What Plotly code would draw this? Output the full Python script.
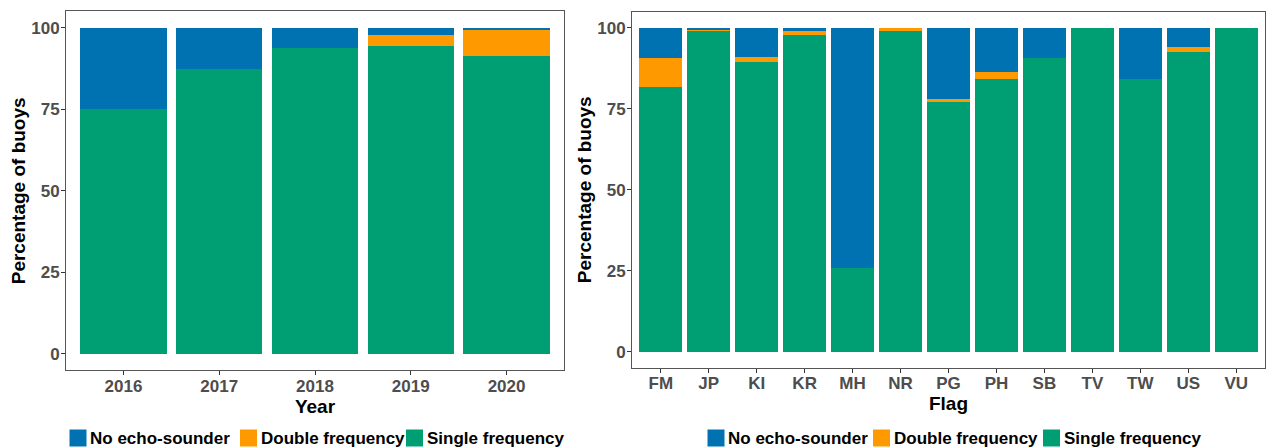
import plotly.graph_objects as go

# ---- data -------------------------------------------------------------
years = ["2016", "2017", "2018", "2019", "2020"]
year_single = [75.0, 87.2, 93.8, 94.3, 91.4]
year_double = [0.0, 0.0, 0.0, 3.6, 7.8]
year_none = [25.0, 12.8, 6.2, 2.1, 0.8]

flags = ["FM", "JP", "KI", "KR", "MH", "NR", "PG", "PH", "SB", "TV", "TW", "US", "VU"]
flag_single = [81.8, 99.2, 89.3, 97.9, 25.8, 99.0, 77.4, 84.3, 90.5, 100.0, 84.3, 92.5, 100.0]
flag_double = [8.7, 0.4, 1.7, 1.2, 0.0, 1.0, 0.5, 2.1, 0.0, 0.0, 0.0, 1.5, 0.0]
flag_none = [9.5, 0.4, 9.0, 0.9, 74.2, 0.0, 22.1, 13.6, 9.5, 0.0, 15.7, 6.0, 0.0]

y_ticks = [0, 25, 50, 75, 100]
series_names = ["No echo-sounder", "Double frequency", "Single frequency"]
series_colors = ["#0072B2", "#FF9900", "#009E73"]

# ---- layout helpers ---------------------------------------------------
W, H = 1271, 448
FONT = "Liberation Sans, Arial, sans-serif"


def px_x(x):
    return x / W


def px_y(y):
    return 1 - y / H


fig = go.Figure()

# stacked bars: single at the bottom, then double, then no echo-sounder
panels = [
    (years, year_single, year_double, year_none, "x", "y"),
    (flags, flag_single, flag_double, flag_none, "x2", "y2"),
]
for cats, single, double, none, xa, ya in panels:
    for name, vals, col in [
        (series_names[2], single, series_colors[2]),
        (series_names[1], double, series_colors[1]),
        (series_names[0], none, series_colors[0]),
    ]:
        fig.add_trace(go.Bar(
            x=cats, y=vals, name=name, xaxis=xa, yaxis=ya,
            marker=dict(color=col, line=dict(width=0)),
            showlegend=False,
        ))

tick_font = dict(family=FONT, size=17, color="#4D4D4D", weight="bold")
title_font = dict(family=FONT, size=19, color="black", weight="bold")
line_col = "#555555"

common_x = dict(
    type="category", showgrid=False, zeroline=False,
    showline=True, mirror=True, linecolor=line_col, linewidth=1,
    ticks="outside", ticklen=4, tickcolor="#333333",
    tickfont=tick_font, title_font=title_font, title_standoff=0,
    ticklabelstandoff=-4,
)
common_y = dict(
    range=[-5, 105], tickvals=y_ticks, showgrid=False, zeroline=False,
    showline=True, mirror=True, linecolor=line_col, linewidth=1,
    ticks="outside", ticklen=4, tickcolor="#333333",
    tickfont=tick_font, title_font=title_font, title_standoff=0,
    ticklabelstandoff=-2,
)

fig.update_layout(
    width=W, height=H,
    margin=dict(l=0, r=0, t=0, b=0),
    paper_bgcolor="white", plot_bgcolor="white",
    barmode="stack", bargap=0.1,
    showlegend=False,
    xaxis=dict(common_x, domain=[px_x(66), px_x(564)], anchor="y",
               range=[-0.6, len(years) - 0.4], title_text="Year"),
    yaxis=dict(common_y, domain=[px_y(370.3), px_y(11.4)], anchor="x",
               title_text="Percentage of buoys"),
    xaxis2=dict(common_x, domain=[px_x(632), px_x(1265)], anchor="y2",
                range=[-0.6, len(flags) - 0.4], title_text="Flag"),
    yaxis2=dict(common_y, domain=[px_y(368), px_y(11.5)], anchor="x2",
                title_text="Percentage of buoys"),
)

# ---- legends below each panel ----------------------------------------
legend_font = dict(family=FONT, size=17, color="black", weight="bold")
key = 17
key_top = 429.5
legend_keys = [
    [69.5, 240.0, 406.0],
    [707.5, 873.0, 1043.0],
]
for starts in legend_keys:
    for x0, name, col in zip(starts, series_names, series_colors):
        fig.add_shape(
            type="rect", xref="paper", yref="paper",
            x0=px_x(x0), x1=px_x(x0 + key),
            y0=px_y(key_top + key), y1=px_y(key_top),
            fillcolor=col, line=dict(width=0), layer="above",
        )
        fig.add_annotation(
            xref="paper", yref="paper",
            x=px_x(x0 + key + 1.5), y=px_y(key_top + key / 2),
            xanchor="left", yanchor="middle",
            text=name, showarrow=False, font=legend_font,
        )

fig.write_html("out.html")
